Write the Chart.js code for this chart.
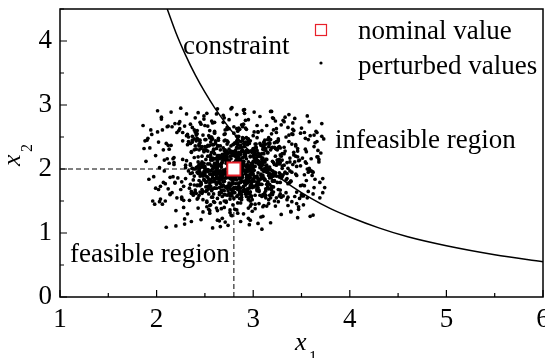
<!DOCTYPE html>
<html>
<head>
<meta charset="utf-8">
<script src="https://cdn.jsdelivr.net/npm/chart.js@4.4.0/dist/chart.umd.min.js"></script>
<style>
  body { margin: 0; background: #fff; }
  #wrap { width: 545px; height: 358px; }
</style>
</head>
<body>
<div id="wrap"><canvas id="robustChart" width="545" height="358"></canvas></div>
<script>
// constraint curve
const constraintX = [2.11, 2.2, 2.3, 2.4, 2.5, 2.6, 2.8, 3.0, 3.2, 3.4, 3.6, 3.8, 4.0, 4.3, 4.6, 5.0, 5.5, 6.0];
const constraintY = [4.5, 4.13, 3.78, 3.47, 3.2, 2.96, 2.55, 2.22, 1.95, 1.73, 1.54, 1.38, 1.25, 1.08, 0.94, 0.8, 0.66, 0.55];

// nominal design point
const nominalX = 2.8;
const nominalY = 2.0;

// perturbed samples (estimated from the cloud), whole spread
const perturbedX = [
  2.81,3.12,2.45,2.96,3.41,2.63,2.17,2.88,3.05,2.52,3.67,2.74,2.31,3.22,2.99,1.93,2.58,3.36,2.83,2.69,
  3.01,2.39,2.77,3.54,2.12,2.91,3.18,2.66,2.48,3.29,2.85,2.03,3.47,2.71,2.56,3.09,2.94,2.27,3.62,2.79,
  2.44,3.15,2.86,1.98,3.33,2.61,2.73,3.02,2.36,3.71,2.89,2.54,3.24,2.67,2.08,3.44,2.92,2.78,3.11,2.42,
  2.97,2.21,3.38,2.64,2.84,3.57,2.49,3.06,2.15,2.76,3.27,2.59,1.89,3.19,2.93,2.68,3.49,2.33,2.87,3.04,
  2.57,3.31,2.72,2.05,3.14,2.82,2.46,3.63,2.95,2.29,3.08,2.65,3.42,2.51,2.78,3.21,1.96,2.88,3.35,2.62,
  3.17,2.41,2.98,3.52,2.19,2.75,3.07,2.55,3.39,2.84,2.26,3.68,2.69,3.13,2.47,2.91,3.26,2.10,2.80,3.45,
  2.63,3.03,2.37,2.86,3.59,2.53,3.20,2.71,2.01,3.10,2.94,2.43,3.32,2.77,2.60,3.74,2.89,2.24,3.16,2.50,
  2.92,2.32,3.28,2.70,3.48,2.58,1.91,2.97,3.09,2.44,3.37,2.83,2.66,3.55,2.14,3.00,2.76,3.23,2.52,2.85,
  3.13,2.67,2.06,3.43,2.79,2.49,3.25,2.90,2.35,3.61,2.74,3.04,2.56,2.20,3.30,2.87,2.63,3.50,2.99,2.40,
  2.82,3.19,2.54,3.66,2.28,2.95,3.07,2.61,1.87,3.35,2.73,2.46,3.12,2.84,3.46,2.38,2.68,3.01,2.16,2.93,
  3.24,2.59,2.88,3.40,2.11,2.76,3.15,2.50,3.56,2.98,2.30,2.81,3.28,2.64,1.95,3.05,2.72,3.38,2.45,2.90,
  2.55,3.33,2.70,2.23,3.11,2.86,3.64,2.42,2.96,3.18,2.60,2.04,3.44,2.78,2.51,3.27,2.92,2.34,3.70,2.67,
  3.06,2.48,2.85,3.53,2.18,2.99,3.21,2.57,2.75,3.36,2.40,2.89,1.99,3.14,2.65,3.47,2.80,2.27,3.02,2.53,
  2.71,3.26,2.44,3.60,2.83,2.09,3.09,2.62,3.41,2.94,2.36,2.77,3.17,2.58,3.72,2.86,2.47,3.32,2.13,2.97,
  3.20,2.56,2.91,2.26,3.49,2.74,3.03,2.43,3.29,2.82,1.90,2.66,3.13,2.88,3.58,2.52,2.79,3.39,2.31,3.00,
  2.60,3.16,2.37,2.84,3.45,2.69,2.22,3.08,2.93,3.65,2.50,2.76,3.25,2.07,2.90,3.34,2.63,3.04,2.45,2.81,
  3.37,2.54,2.98,3.12,2.29,2.73,3.51,2.85,2.41,3.22,2.67,1.97,3.07,2.79,3.43,2.58,2.95,2.35,3.18,2.70,
  2.87,3.30,2.46,3.69,2.61,2.15,3.01,2.92,3.40,2.55,2.80,3.15,2.39,3.57,2.72,2.02,3.28,2.84,2.49,3.10,
  2.65,3.05,2.33,2.97,3.54,2.77,2.25,3.19,2.60,3.36,2.89,2.44,3.63,2.71,3.08,1.88,2.83,3.24,2.53,2.94,
  3.14,2.42,2.86,3.46,2.19,2.68,3.02,2.57,3.31,2.91,2.38,3.73,2.75,3.11,2.50,2.96,3.42,2.28,2.82,2.64,
  2.78,3.23,2.52,2.01,3.35,2.87,2.63,3.09,2.40,3.52,2.93,2.70,3.17,2.46,2.85,3.61,2.24,2.99,3.27,2.59,
  2.90,2.34,3.06,2.73,3.44,2.55,2.12,3.20,2.81,3.67,2.48,2.96,3.13,2.62,2.06,3.38,2.76,3.00,2.43,3.29,
  2.69,3.11,2.37,2.88,3.58,2.60,2.95,3.25,2.17,2.83,3.47,2.51,2.74,3.04,1.94,3.33,2.66,2.92,3.15,2.45,
  3.03,2.58,2.84,3.40,2.30,2.77,3.19,2.64,3.55,2.97,2.41,2.08,3.10,2.86,3.26,2.53,3.71,2.72,2.35,2.98,
  2.56,3.34,2.80,2.20,3.07,2.91,3.50,2.47,2.68,3.22,2.85,2.39,3.62,2.75,3.01,2.13,2.94,3.30,2.60,2.82,
  3.18,2.49,2.73,3.45,2.27,2.89,3.12,2.57,2.03,3.37,2.79,2.65,3.05,2.44,3.56,2.87,2.32,3.21,2.71,2.93,
  2.62,3.08,2.43,3.66,2.86,2.16,3.28,2.70,2.98,3.14,2.54,2.81,3.41,2.36,2.90,1.92,3.03,2.76,3.48,2.50,
  2.95,2.25,3.16,2.67,3.39,2.84,2.48,3.01,3.60,2.58,2.78,2.11,3.24,2.92,2.63,3.32,2.42,3.09,2.74,2.88,
  3.27,2.61,2.97,2.31,3.53,2.72,3.06,2.46,2.85,3.19,2.05,2.68,3.44,2.80,2.55,3.11,2.94,3.69,2.37,2.83,
  2.73,3.13,2.50,2.90,3.36,2.18,2.99,3.23,2.64,2.86,3.57,2.44,3.04,2.77,2.28,3.30,2.59,2.96,3.15,2.70,
  2.84,3.20,2.40,3.49,2.66,2.09,3.07,2.91,3.34,2.53,2.79,3.64,2.33,3.10,2.87,2.57,3.25,2.74,1.86,2.98,
  3.09,2.52,2.88,3.42,2.21,2.75,3.17,2.61,2.95,3.54,2.45,2.82,3.02,2.68,3.31,2.14,2.90,3.40,2.56,2.78,
  2.67,3.26,2.47,2.93,3.59,2.70,2.32,3.05,2.85,3.21,2.58,2.04,3.38,2.80,3.12,2.49,2.97,3.68,2.63,2.89,
  3.00,2.39,2.83,3.14,2.60,3.46,2.23,2.76,3.08,2.92,2.51,3.33,2.71,2.97,3.55,2.42,2.86,3.19,2.10,2.74,
  2.58,3.16,2.94,2.35,3.28,2.79,3.62,2.55,2.88,3.03,2.46,3.43,2.73,2.18,3.10,2.84,2.62,3.35,2.99,2.50,
  3.22,2.65,2.87,3.50,2.29,2.92,3.06,2.54,3.37,2.77,2.07,2.96,3.18,2.60,3.72,2.83,2.44,3.01,2.70,3.27,
  2.76,3.04,2.41,2.89,3.45,2.63,2.26,3.13,2.81,3.58,2.52,2.98,3.24,2.68,1.99,3.08,2.86,3.39,2.47,2.93,
  3.11,2.56,2.79,3.32,2.14,2.90,3.20,2.66,3.51,2.84,2.37,3.00,2.73,3.63,2.59,2.95,3.15,2.30,2.82,3.05,
  2.61,3.29,2.49,2.97,3.41,2.72,2.19,3.07,2.87,3.56,2.43,2.80,3.12,2.64,3.46,2.02,2.91,3.23,2.55,2.77,
  2.94,2.36,3.17,2.71,3.53,2.60,2.83,3.02,2.47,3.36,2.89,2.12,3.26,2.75,2.98,3.66,2.51,3.09,2.67,2.85
];
const perturbedY = [
  2.04,1.63,2.41,1.87,2.72,1.35,2.16,1.95,2.58,1.48,2.29,1.12,2.86,2.07,1.74,2.33,1.56,2.65,1.91,2.22,
  1.81,2.47,1.28,2.11,1.69,2.93,1.99,2.36,1.52,2.69,1.77,2.02,1.41,2.55,2.18,1.06,1.88,2.44,1.61,2.27,
  2.39,1.72,2.08,1.45,2.81,1.96,1.59,2.24,1.18,2.51,2.01,1.83,2.63,1.38,2.14,1.92,2.76,1.66,2.30,1.53,
  1.97,2.57,1.79,2.21,1.31,2.46,2.09,1.67,2.89,1.85,2.35,1.49,2.12,1.73,2.62,1.23,2.05,2.43,1.89,2.68,
  2.26,1.58,1.94,2.78,1.42,2.19,1.76,2.53,2.00,1.14,2.37,1.84,2.60,1.65,2.96,2.10,1.50,2.28,1.93,1.70,
  1.86,2.31,2.06,1.44,2.71,1.62,2.23,1.98,1.33,2.49,1.80,2.15,2.84,1.55,2.03,2.40,1.68,1.09,2.56,1.90,
  2.13,1.75,2.45,1.97,1.26,2.67,1.82,2.25,2.91,1.60,2.07,1.39,2.34,1.88,2.59,1.71,2.18,2.74,1.46,2.01,
  1.64,2.38,1.92,2.80,1.54,2.17,2.48,1.20,1.99,2.30,1.78,2.63,1.47,2.09,1.87,2.52,1.36,2.20,2.87,1.73,
  2.29,1.90,2.61,1.57,2.04,1.83,2.42,1.30,2.70,1.96,2.14,1.66,2.50,1.11,2.24,1.79,2.94,1.60,2.08,2.36,
  1.95,2.55,1.69,2.19,1.40,2.77,2.02,1.85,2.32,1.52,2.65,1.76,2.11,2.45,1.24,2.00,1.89,2.58,1.63,2.27,
  2.43,1.81,2.12,1.49,2.66,1.93,1.71,2.35,2.83,1.58,2.06,1.37,2.22,1.86,2.54,1.15,2.17,1.97,2.73,1.67,
  1.78,2.28,1.98,2.60,1.43,2.10,1.84,2.48,1.61,2.90,2.03,1.73,2.38,1.27,2.15,1.94,2.64,1.51,2.25,1.88,
  2.20,1.65,2.51,1.91,2.07,1.34,2.79,1.80,2.31,1.56,2.00,2.44,1.70,2.68,1.19,2.13,1.87,2.57,1.45,2.37,
  1.92,2.47,1.59,2.16,2.85,1.77,2.05,1.39,2.62,1.96,2.26,1.68,2.41,1.08,1.85,2.33,1.62,2.74,2.09,1.50,
  2.34,1.83,2.19,1.53,2.56,1.99,1.74,2.88,1.29,2.12,2.45,1.90,1.66,2.69,2.01,1.41,2.24,1.81,2.52,1.97,
  1.70,2.40,1.94,2.23,1.46,2.73,1.86,2.10,1.57,2.59,2.04,1.32,2.30,1.79,2.92,1.63,2.17,2.49,1.89,2.08,
  2.53,1.61,2.27,1.97,1.22,2.39,1.75,2.64,2.02,1.50,2.18,1.88,2.82,1.44,2.11,1.69,2.46,1.93,1.16,2.29,
  1.84,2.14,2.70,1.55,2.06,2.37,1.72,1.98,2.55,1.35,2.25,1.80,2.61,1.95,1.48,2.42,1.67,2.03,2.78,1.90,
  2.16,1.76,2.50,1.92,2.31,1.60,2.95,1.87,2.09,1.43,2.66,2.00,1.71,2.20,1.25,2.44,1.83,2.57,1.99,1.64,
  2.01,2.60,1.54,2.28,1.78,2.13,1.38,2.75,1.91,2.35,1.62,2.47,2.05,1.86,2.68,1.13,2.22,1.73,2.40,1.96,
  1.93,2.32,1.66,2.58,2.10,1.47,2.21,1.85,2.80,1.58,2.03,2.44,1.76,1.21,2.26,1.90,2.63,1.52,2.15,2.38,
  2.48,1.70,2.07,1.89,2.36,1.31,2.67,1.97,1.63,2.19,2.53,1.82,2.00,2.86,1.45,2.11,1.74,2.29,1.93,1.56,
  1.80,2.24,2.42,1.60,1.98,2.73,1.52,2.14,1.88,2.51,1.37,2.30,2.06,1.68,2.61,1.95,1.10,2.20,1.79,2.45,
  2.17,1.91,1.59,2.39,2.02,1.75,2.90,1.84,2.27,1.42,2.55,1.97,2.12,1.65,2.34,1.87,2.71,1.50,2.08,1.99,
  1.73,2.50,2.04,1.35,2.23,1.81,2.64,2.09,1.57,2.41,1.94,2.18,1.28,2.77,1.86,2.31,1.69,2.01,2.56,1.77,
  2.30,1.96,2.62,1.64,2.15,2.47,1.83,2.05,1.49,2.85,1.90,2.21,1.71,2.37,2.00,1.18,2.54,1.92,2.25,1.61,
  1.98,2.19,1.55,2.43,1.87,2.66,2.10,1.40,2.28,1.76,2.52,1.95,2.07,1.62,2.92,1.84,2.33,1.53,2.14,2.46,
  2.11,1.68,2.35,2.03,1.81,2.59,1.33,2.24,1.97,2.72,1.58,2.16,1.89,2.42,1.20,2.06,1.75,2.60,1.93,2.27,
  1.88,2.40,1.72,2.13,2.57,1.94,1.46,2.32,2.08,1.67,2.81,1.85,2.20,1.54,2.49,1.99,2.02,1.79,2.65,1.36,
  2.23,1.59,2.01,2.70,1.77,2.18,1.92,1.42,2.45,2.10,1.65,2.36,1.86,2.94,1.51,2.05,2.29,1.70,1.96,2.54,
  1.90,2.12,2.58,1.74,2.30,1.50,2.06,2.87,1.83,2.20,1.63,2.41,1.97,1.26,2.15,2.50,1.79,2.04,2.68,1.57,
  2.37,1.80,1.99,2.26,1.55,2.63,1.93,2.16,1.39,2.48,2.02,1.71,2.33,1.88,2.76,1.60,2.09,1.95,1.44,2.21,
  1.67,2.44,2.07,1.86,2.52,1.96,1.30,2.25,1.78,2.61,2.00,1.53,2.17,2.39,1.84,2.83,1.64,2.11,1.92,2.30,
  2.05,1.75,2.34,1.98,1.48,2.19,2.71,1.89,2.09,1.61,2.46,1.94,1.17,2.28,1.82,2.55,2.01,1.70,2.40,1.87,
  2.14,2.49,1.66,2.06,2.33,1.79,1.95,2.60,1.52,2.22,1.91,2.79,1.73,2.10,1.41,2.38,2.03,1.85,2.27,1.97,
  1.82,2.20,2.00,1.58,2.67,1.93,2.12,1.37,2.43,1.76,2.30,2.05,1.87,2.57,1.63,2.18,1.99,2.89,1.50,2.08,
  2.26,1.69,2.53,1.91,2.04,2.36,1.56,2.15,1.84,2.74,1.98,1.45,2.31,1.73,2.21,1.90,2.62,1.34,2.11,1.80,
  1.96,2.42,1.77,2.24,1.61,2.09,2.80,1.88,2.17,1.47,2.51,2.02,1.70,2.35,1.94,1.23,2.46,1.85,2.13,2.58,
  2.09,1.86,2.29,1.64,2.54,2.00,1.79,2.40,1.93,1.55,2.19,2.66,1.83,2.06,2.32,1.68,1.97,2.75,1.43,2.16,
  1.85,2.27,2.03,2.61,1.74,1.92,2.44,1.59,2.20,2.01,1.81,2.37,1.49,2.12,1.95,2.57,1.72,2.24,2.07,1.90
];

// extra samples in the dense middle of the cloud
const coreX = [
  2.78,2.91,2.55,3.07,2.66,2.84,3.19,2.43,2.97,2.71,2.62,3.02,2.88,2.49,3.14,2.76,2.58,2.93,3.25,2.69,
  2.85,2.52,3.11,2.74,2.96,2.38,3.04,2.81,2.63,3.22,2.89,2.57,2.75,3.09,2.47,2.92,2.68,3.16,2.83,2.60,
  3.00,2.72,2.45,2.87,3.13,2.64,2.94,2.53,3.28,2.79,2.67,3.05,2.41,2.90,2.77,3.18,2.59,2.86,2.99,2.70,
  2.61,3.08,2.82,2.50,2.95,3.21,2.73,2.44,2.88,3.03,2.65,2.80,3.12,2.56,2.97,2.35,2.84,3.10,2.69,2.92,
  2.76,2.48,3.06,2.90,2.60,3.17,2.83,2.71,2.39,2.98,3.24,2.66,2.87,2.54,3.01,2.78,2.63,3.15,2.93,2.46,
  2.89,3.13,2.58,2.74,3.04,2.42,2.95,2.81,3.20,2.67,2.52,2.91,3.08,2.77,2.62,2.99,3.30,2.70,2.85,2.57,
  2.68,2.96,3.11,2.51,2.83,2.73,3.02,2.45,2.90,3.16,2.64,2.79,2.37,3.07,2.86,2.59,2.94,3.23,2.75,2.88,
  3.05,2.62,2.80,2.97,2.48,3.14,2.70,2.87,2.55,3.00,2.78,2.40,3.19,2.65,2.92,2.84,2.53,3.09,2.72,2.95,
  2.74,3.18,2.60,2.86,3.03,2.50,2.93,2.69,3.27,2.82,2.44,2.98,2.76,3.12,2.57,2.89,2.66,3.06,2.80,2.63,
  2.91,2.55,3.10,2.71,2.84,2.36,3.00,2.79,2.61,3.21,2.88,2.49,2.96,2.73,3.15,2.64,2.85,2.43,3.04,2.77,
  2.83,3.08,2.47,2.94,2.68,3.26,2.75,2.58,3.01,2.87,2.41,2.97,3.13,2.70,2.52,2.90,3.05,2.62,2.81,3.17,
  2.56,2.92,3.12,2.66,2.79,2.45,3.03,2.86,2.73,3.22,2.60,2.95,2.38,2.84,3.09,2.69,2.78,3.00,2.51,2.90,
  3.14,2.71,2.88,2.53,2.99,2.64,3.20,2.77,2.46,2.93,3.06,2.59,2.82,2.74,3.29,2.67,2.96,2.42,3.02,2.85,
  2.70,2.98,2.57,3.11,2.80,2.63,2.91,3.24,2.49,2.86,2.72,3.04,2.55,2.94,2.67,3.15,2.39,2.83,2.99,2.61,
  2.87,2.50,3.07,2.75,2.96,2.60,3.18,2.82,2.44,3.00,2.69,2.89,3.10,2.58,2.77,2.35,2.93,3.23,2.65,2.80,
  2.64,3.02,2.79,2.48,2.90,3.13,2.70,2.56,2.97,2.84,3.27,2.62,2.76,3.05,2.43,2.88,2.73,3.16,2.53,2.95,
  2.99,2.67,2.85,3.21,2.54,2.78,3.08,2.61,2.92,2.46,3.01,2.74,2.87,3.12,2.58,2.81,2.40,2.96,3.19,2.70,
  2.77,3.10,2.52,2.89,2.66,3.04,2.83,2.42,2.98,3.25,2.60,2.80,2.94,2.69,3.14,2.50,2.86,3.00,2.73,2.63,
  2.90,2.59,3.17,2.72,2.47,2.95,3.06,2.65,2.84,2.55,3.22,2.78,2.37,2.91,2.68,3.03,2.81,2.57,3.11,2.75,
  2.62,2.86,2.99,2.51,3.09,2.74,2.93,2.44,2.80,3.15,2.67,2.97,2.56,3.02,2.76,2.89,3.28,2.60,2.83,2.71
];
const coreY = [
  1.98,2.21,1.74,2.09,1.86,2.33,1.62,2.04,1.91,2.45,1.79,2.14,1.56,2.27,1.95,1.70,2.38,1.83,2.10,1.67,
  2.16,1.88,2.42,1.73,2.02,1.59,2.29,1.94,2.11,1.81,2.49,1.66,2.06,1.90,2.35,1.77,2.19,1.52,2.00,2.24,
  1.84,2.12,1.95,2.37,1.69,2.05,1.78,2.28,1.61,1.97,2.18,1.85,2.44,1.72,2.08,1.55,2.31,1.93,1.80,2.15,
  2.03,1.76,2.26,1.90,2.47,1.64,2.13,1.82,2.01,2.34,1.71,1.96,1.58,2.22,1.87,2.40,1.68,2.07,1.92,1.75,
  2.20,1.93,1.65,2.11,1.85,2.39,1.99,1.60,2.30,1.77,2.06,1.89,2.43,1.70,2.17,1.83,1.54,2.25,1.97,2.08,
  1.87,2.32,2.00,1.73,2.14,1.95,1.63,2.41,1.81,2.09,1.50,2.23,1.92,2.36,1.76,2.03,1.88,1.66,2.19,2.46,
  2.10,1.80,2.35,1.97,1.57,2.18,2.04,1.74,2.27,1.90,2.48,1.69,2.01,1.84,2.13,1.61,2.38,1.94,1.78,2.06,
  1.94,2.17,1.71,2.44,1.89,2.02,1.60,2.26,1.83,2.12,1.96,1.67,2.33,1.79,2.05,2.40,1.73,2.15,1.86,1.53,
  2.25,1.91,2.07,1.64,2.39,1.82,2.16,1.98,1.58,2.30,1.75,2.09,1.88,2.45,1.68,2.01,1.93,1.77,2.21,2.04,
  1.78,2.08,2.31,1.86,1.99,1.65,2.20,1.92,2.42,1.72,2.03,1.84,1.56,2.14,1.95,2.36,1.70,2.11,1.89,2.28,
  2.06,1.85,1.68,2.29,1.94,2.13,1.75,2.47,1.88,2.00,1.62,2.19,1.97,1.81,2.35,1.73,2.09,1.90,2.24,1.59,
  1.92,2.22,2.01,1.77,2.38,1.64,2.10,1.86,2.27,1.95,1.70,2.43,1.83,2.05,1.57,2.16,1.98,2.32,1.79,2.12,
  2.15,1.72,2.34,1.96,1.83,2.07,1.60,2.25,1.90,2.49,1.76,2.02,1.87,1.66,2.20,1.93,2.40,1.74,2.11,1.99,
  1.81,2.04,1.91,2.41,1.69,2.18,1.97,1.55,2.30,1.85,2.09,1.78,2.37,2.00,1.63,2.26,1.89,2.13,1.71,2.44,
  2.23,1.96,1.59,2.12,2.00,1.80,2.46,1.70,2.07,1.92,2.33,1.65,2.17,1.87,2.02,1.76,2.29,1.94,1.60,2.10,
  1.97,2.27,1.84,2.05,1.66,2.39,1.93,2.14,1.74,2.01,1.88,2.32,1.58,2.20,1.95,1.81,2.44,1.69,2.08,1.90,
  2.08,1.73,2.19,1.89,2.36,1.62,2.03,1.95,2.24,1.79,1.98,2.42,1.70,2.11,1.86,2.28,1.64,2.00,1.91,2.16,
  1.90,2.35,1.67,2.10,1.97,1.80,2.21,2.03,1.57,2.14,1.84,1.99,2.47,1.75,2.06,1.93,1.61,2.31,1.87,2.02,
  2.12,1.95,2.40,1.71,2.04,2.26,1.82,1.63,2.18,1.92,2.34,1.78,2.01,1.68,2.23,1.88,2.09,1.56,2.37,1.96,
  1.85,2.13,1.94,2.29,1.76,2.07,1.90,2.45,1.69,2.00,1.83,2.20,1.97,2.39,1.61,2.05,1.79,2.16,1.92,2.30
];

const xTicks = [1, 2, 3, 4, 5, 6];
const yTicks = [0, 1, 2, 3, 4];

const serif = '"Liberation Serif", "Times New Roman", serif';
const red = '#e8202a';

const constraintPts = constraintX.map((x, i) => ({ x: x, y: constraintY[i] }));
const perturbedPts = perturbedX.map((x, i) => ({ x: x, y: perturbedY[i] }))
  .concat(coreX.map((x, i) => ({ x: x, y: coreY[i] })));

// no extra room for tick labels sticking out of the plot
function noPadding(scale) {
  scale.paddingTop = 0;
  scale.paddingBottom = 0;
  scale.paddingLeft = 0;
  scale.paddingRight = 0;
}

// box, inward ticks, axis titles, annotations and legend
const decorPlugin = {
  id: 'decor',
  afterDraw(chart) {
    const ctx = chart.ctx;
    const a = chart.chartArea;
    const xs = chart.scales.x;
    const ys = chart.scales.y;
    ctx.save();
    ctx.strokeStyle = '#000';
    ctx.lineWidth = 1.5;
    ctx.strokeRect(a.left, a.top, a.right - a.left, a.bottom - a.top);

    ctx.lineWidth = 1.2;
    ctx.beginPath();
    for (let v = 1; v <= 6; v += 0.5) {
      const px = xs.getPixelForValue(v);
      const len = Number.isInteger(v) ? 7 : 4;
      ctx.moveTo(px, a.bottom);
      ctx.lineTo(px, a.bottom - len);
    }
    for (let v = 0; v <= 4.5; v += 0.5) {
      const py = ys.getPixelForValue(v);
      const len = Number.isInteger(v) ? 7 : 4;
      ctx.moveTo(a.left, py);
      ctx.lineTo(a.left + len, py);
    }
    ctx.stroke();

    ctx.fillStyle = '#000';
    ctx.textBaseline = 'alphabetic';
    ctx.textAlign = 'left';

    // x1
    ctx.font = 'italic 26px ' + serif;
    ctx.fillText('x', 295, 350);
    ctx.font = '16px ' + serif;
    ctx.fillText('1', 309, 362);

    // x2 (rotated)
    ctx.save();
    ctx.translate(20, 166);
    ctx.rotate(-Math.PI / 2);
    ctx.font = 'italic 26px ' + serif;
    ctx.fillText('x', 0, 0);
    ctx.font = '16px ' + serif;
    ctx.fillText('2', 14, 12);
    ctx.restore();

    ctx.font = '27px ' + serif;
    ctx.fillText('constraint', 183, 54);
    ctx.fillText('infeasible region', 335, 148);
    ctx.fillText('feasible region', 70, 262);

    // legend
    ctx.fillText('nominal value', 358, 39);
    ctx.fillText('perturbed values', 358, 74);
    ctx.strokeStyle = red;
    ctx.lineWidth = 1.2;
    ctx.strokeRect(315.5, 24.5, 11, 11);
    ctx.beginPath();
    ctx.arc(321, 63, 1.6, 0, Math.PI * 2);
    ctx.fill();
    ctx.restore();
  }
};

new Chart(document.getElementById('robustChart'), {
  type: 'scatter',
  data: {
    datasets: [
      {
        label: 'nominal value',
        data: [{ x: nominalX, y: nominalY }],
        pointStyle: 'rect',
        pointRadius: 9.2,
        backgroundColor: '#fff',
        borderColor: red,
        borderWidth: 1.8
      },
      {
        label: 'constraint',
        data: constraintPts,
        showLine: true,
        cubicInterpolationMode: 'monotone',
        borderColor: '#000',
        borderWidth: 1.5,
        pointRadius: 0
      },
      {
        label: 'perturbed values',
        data: perturbedPts,
        pointRadius: 1.85,
        borderWidth: 0,
        backgroundColor: '#000'
      },
      {
        label: 'h-guide',
        data: [{ x: 1, y: nominalY }, { x: nominalX, y: nominalY }],
        showLine: true,
        borderColor: '#000',
        borderWidth: 1,
        borderDash: [5, 3],
        pointRadius: 0
      },
      {
        label: 'v-guide',
        data: [{ x: nominalX, y: 0 }, { x: nominalX, y: nominalY }],
        showLine: true,
        borderColor: '#000',
        borderWidth: 1,
        borderDash: [5, 3],
        pointRadius: 0
      }
    ]
  },
  options: {
    responsive: false,
    animation: false,
    layout: { autoPadding: false, padding: { top: 9, right: 2, left: 0, bottom: 0 } },
    plugins: {
      legend: { display: false },
      tooltip: { enabled: false }
    },
    scales: {
      x: {
        type: 'linear',
        min: 1,
        max: 6,
        afterFit(scale) { scale.height = 61; noPadding(scale); },
        afterBuildTicks(scale) { scale.ticks = xTicks.map(v => ({ value: v })); },
        grid: { display: false, drawTicks: false },
        border: { display: false },
        ticks: {
          autoSkip: false,
          maxRotation: 0,
          padding: 7,
          color: '#000',
          font: { family: serif, size: 27 }
        }
      },
      y: {
        type: 'linear',
        min: 0,
        max: 4.5,
        afterFit(scale) { scale.width = 60; noPadding(scale); },
        afterBuildTicks(scale) { scale.ticks = yTicks.map(v => ({ value: v })); },
        grid: { display: false, drawTicks: false },
        border: { display: false },
        ticks: {
          padding: 8,
          color: '#000',
          font: { family: serif, size: 27 }
        }
      }
    }
  },
  plugins: [decorPlugin]
});
</script>
</body>
</html>
